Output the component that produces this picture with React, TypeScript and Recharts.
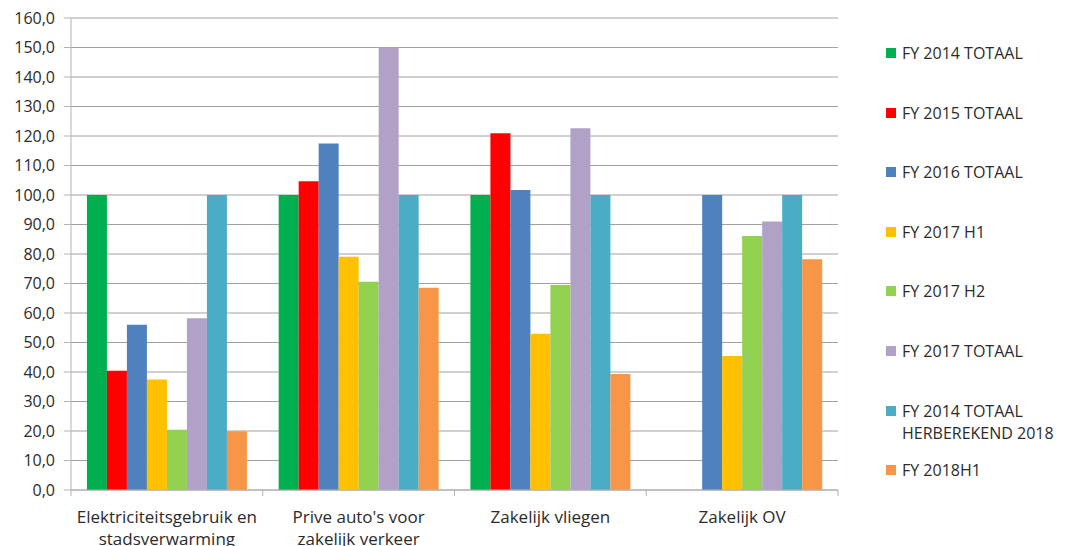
import React from 'react';
import { BarChart, Bar, XAxis, YAxis, CartesianGrid } from 'recharts';

const categories = [
  'Elektriciteitsgebruik en stadsverwarming',
  "Prive auto's voor zakelijk verkeer",
  'Zakelijk vliegen',
  'Zakelijk OV',
];
const categoryLines = [
  ['Elektriciteitsgebruik en', 'stadsverwarming'],
  ["Prive auto's voor", 'zakelijk verkeer'],
  ['Zakelijk vliegen'],
  ['Zakelijk OV'],
];

const fy2014Totaal = [100.0, 100.0, 100.0, null];
const fy2015Totaal = [40.4, 104.7, 120.9, null];
const fy2016Totaal = [56.0, 117.5, 101.7, 100.0];
const fy2017H1 = [37.5, 79.1, 53.0, 45.4];
const fy2017H2 = [20.4, 70.6, 69.5, 86.1];
const fy2017Totaal = [58.2, 150.0, 122.6, 91.0];
const fy2014Herberekend = [100.0, 100.0, 100.0, 100.0];
const fy2018H1 = [19.9, 68.6, 39.3, 78.2];

const yTicks = [0, 10, 20, 30, 40, 50, 60, 70, 80, 90, 100, 110, 120, 130, 140, 150, 160];

const series = [
  { key: 's0', name: ['FY 2014 TOTAAL'], values: fy2014Totaal, color: '#00b050' },
  { key: 's1', name: ['FY 2015 TOTAAL'], values: fy2015Totaal, color: '#ff0000' },
  { key: 's2', name: ['FY 2016 TOTAAL'], values: fy2016Totaal, color: '#4f81bd' },
  { key: 's3', name: ['FY 2017 H1'], values: fy2017H1, color: '#ffc000' },
  { key: 's4', name: ['FY 2017 H2'], values: fy2017H2, color: '#92d050' },
  { key: 's5', name: ['FY 2017 TOTAAL'], values: fy2017Totaal, color: '#b2a1c7' },
  { key: 's6', name: ['FY 2014 TOTAAL', 'HERBEREKEND 2018'], values: fy2014Herberekend, color: '#4bacc6' },
  { key: 's7', name: ['FY 2018H1'], values: fy2018H1, color: '#f79646' },
];

const data = categories.map((c, i) => {
  const row: any = { name: c, idx: i };
  series.forEach((s) => {
    row[s.key] = s.values[i];
  });
  return row;
});

const W = 1067;
const H = 546;
const LEFT = 71;
const RIGHT_MARGIN = 229;
const BAND = (W - LEFT - RIGHT_MARGIN) / categories.length;
const FONT = '"Open Sans", sans-serif';
const TEXT = '#2b2b2b';
const AXIS = '#b3b3b3';

const XTick = (props: any) => {
  const { x, y, index } = props;
  const lines = categoryLines[index] || [];
  return (
    <g>
      <line x1={x - BAND / 2} x2={x - BAND / 2} y1={y} y2={y + 6} stroke={AXIS} />
      {index === categories.length - 1 && (
        <line x1={x + BAND / 2} x2={x + BAND / 2} y1={y} y2={y + 6} stroke={AXIS} />
      )}
      <text x={x} y={y} textAnchor="middle" fill={TEXT} fontSize={17} fontFamily={FONT}>
        {lines.map((l, i) => (
          <tspan key={i} x={x} dy={i === 0 ? 33 : 22}>
            {l}
          </tspan>
        ))}
      </text>
    </g>
  );
};

const fmt = (v: number) => v.toFixed(1).replace('.', ',');

export default function App() {
  return (
    <div style={{ position: 'relative', width: W, height: H, fontFamily: FONT }}>
      <style>{`body{margin:0;}`}</style>
      <BarChart
        width={W}
        height={H}
        data={data}
        margin={{ top: 18, right: RIGHT_MARGIN, left: 0, bottom: 0 }}
        barGap={0}
        barCategoryGap="8.3%"
      >
        <CartesianGrid vertical={false} stroke="#a0a0a0" />
        <XAxis
          dataKey="name"
          height={56}
          axisLine={{ stroke: AXIS }}
          tickLine={false}
          tickSize={0}
          tickMargin={0}
          interval={0}
          tick={<XTick />}
        />
        <YAxis
          width={LEFT}
          domain={[0, 160]}
          ticks={yTicks}
          interval={0}
          tickFormatter={fmt}
          axisLine={{ stroke: AXIS }}
          tickLine={{ stroke: AXIS }}
          tickSize={7}
          tickMargin={9}
          tick={{ fill: TEXT, fontSize: 16, fontFamily: FONT }}
        />
        {series.map((s) => (
          <Bar key={s.key} dataKey={s.key} fill={s.color} isAnimationActive={false} />
        ))}
      </BarChart>
      {series.map((s, i) => (
        <div
          key={s.key}
          style={{
            position: 'absolute',
            left: 886,
            top: 42 + i * 59.6,
            fontSize: 16,
            lineHeight: '22px',
            color: TEXT,
            fontFamily: FONT,
            whiteSpace: 'nowrap',
          }}
        >
          <span
            style={{
              position: 'absolute',
              left: 0,
              top: 6,
              width: 10,
              height: 10,
              background: s.color,
            }}
          />
          <div style={{ marginLeft: 16 }}>
            {s.name.map((n, j) => (
              <div key={j}>{n}</div>
            ))}
          </div>
        </div>
      ))}
    </div>
  );
}
